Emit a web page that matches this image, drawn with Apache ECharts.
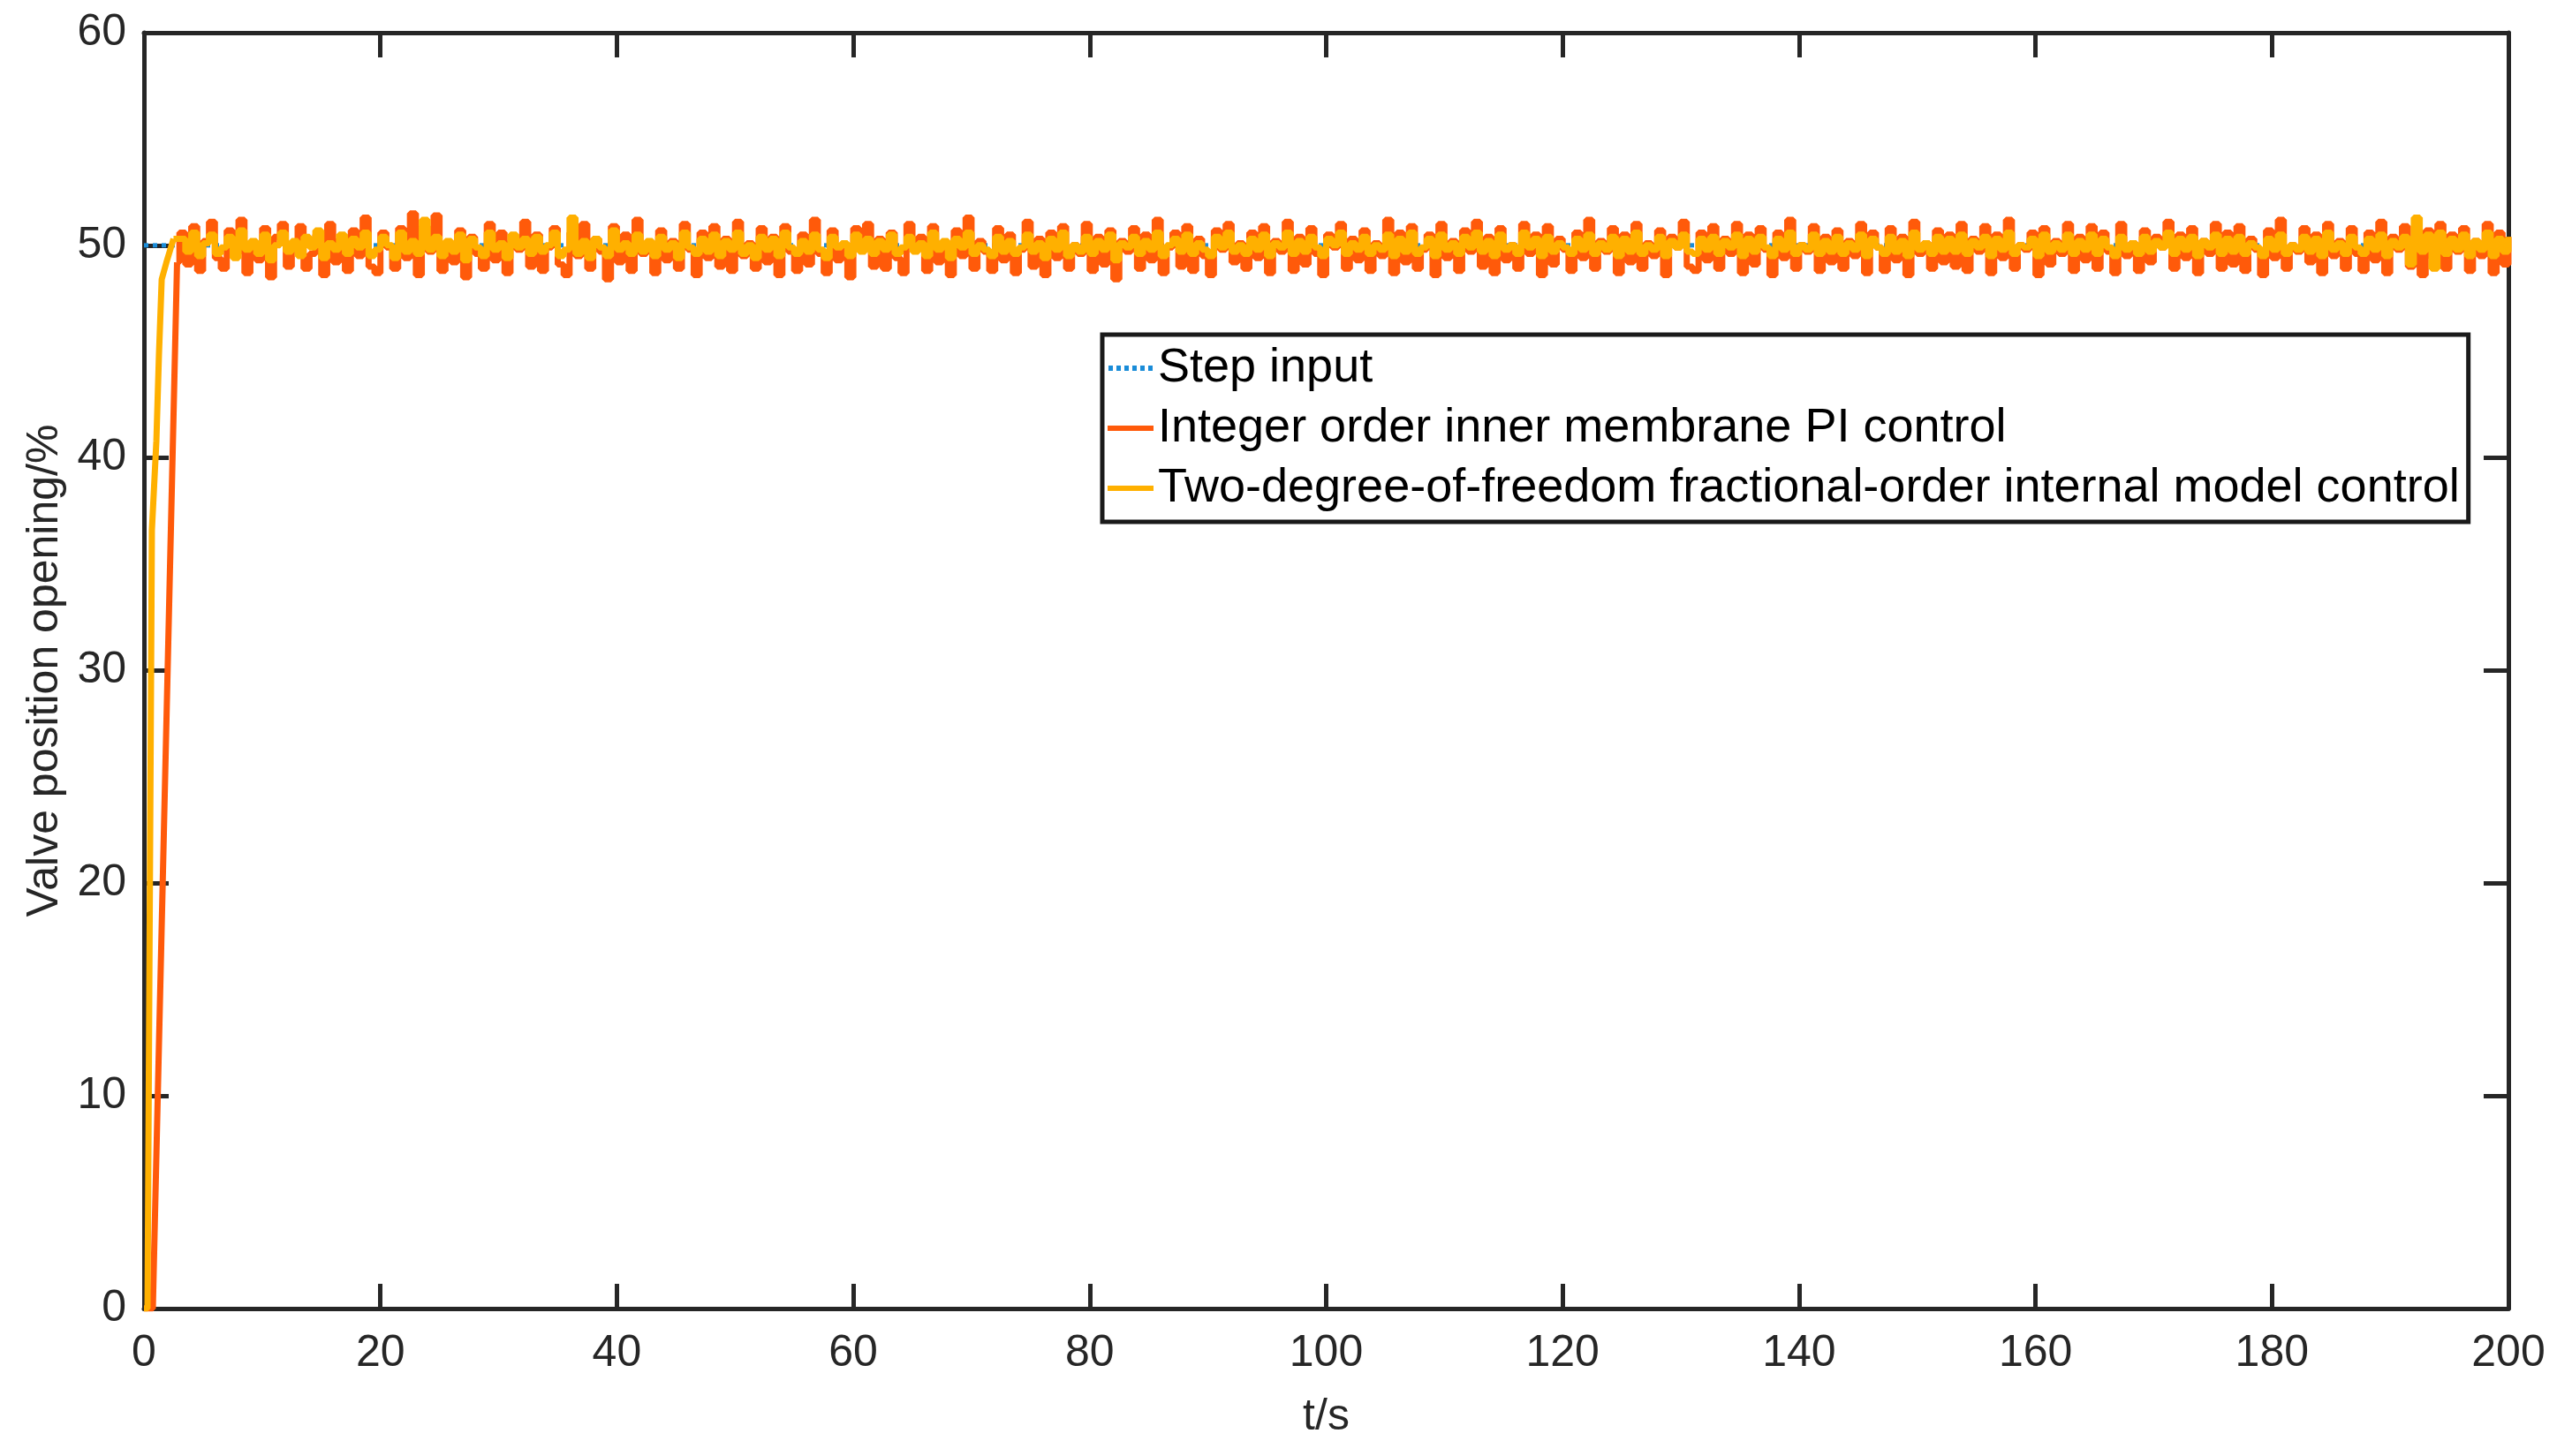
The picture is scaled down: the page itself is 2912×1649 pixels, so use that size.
<!DOCTYPE html>
<html>
<head>
<meta charset="utf-8">
<title>Valve position opening</title>
<script src="https://cdn.jsdelivr.net/npm/echarts@6/dist/echarts.min.js"></script>
<style>
  html, body { margin: 0; padding: 0; background: #fff; }
  #main { width: 2912px; height: 1649px; }
</style>
</head>
<body>
<div id="main"></div>
<script>
// series names (legend)
var seriesNames = [
  'Step input',
  'Integer order inner membrane PI control',
  'Two-degree-of-freedom fractional-order internal model control'
];

// step input (already at 50 from t = 0)
var stepT = [0, 200];
var stepV = [50, 50];

// rising part
var piRiseT = [0, 0.75, 2.8];
var piRiseV = [0, 0, 49.2];
var fomRiseT = [0, 0.3, 0.67, 1.05, 1.27, 1.5, 1.9, 2.5];
var fomRiseV = [0, 0, 36.6, 40.8, 44.9, 48.4, 49.2, 50.3];

// steady part, sampled every 0.5 s from t = 3 s
var noiseStart = 3;
var noiseStep = 0.5;

var piNoise = [
  50.6, 49.1, 50.9, 48.8, 50.2, 51.1, 49.4, 48.9, 50.7, 49.6, 51.2, 48.7, 50.1, 49.3, 50.8, 48.5, 50.4, 51.0, 49.0, 49.8,
  50.9, 48.9, 49.6, 50.5, 48.6, 51.0, 49.2, 50.3, 48.8, 50.7, 49.5, 51.3, 49.0, 48.7, 50.6, 49.9, 48.9, 50.8, 49.4, 51.5,
  48.6, 50.9, 49.7, 51.4, 48.8, 50.1, 49.2, 50.7, 48.5, 50.4, 49.6, 48.9, 51.0, 49.3, 50.6, 48.7, 50.2, 49.8, 51.1, 49.0,
  50.5, 48.8, 49.9, 50.8, 49.1, 48.6, 50.6, 49.5, 51.0, 48.9, 50.3, 49.7, 48.4, 50.9, 49.2, 50.5, 48.8, 51.2, 49.6, 50.0,
  48.7, 50.7, 49.3, 50.2, 48.9, 51.0, 49.8, 48.6, 50.6, 49.4, 50.9, 49.0, 50.3, 48.8, 51.1, 49.5, 50.1, 48.9, 50.8, 49.2,
  50.4, 48.6, 50.9, 49.7, 48.8, 50.5, 49.1, 51.2, 49.6, 48.7, 50.7, 49.3, 50.0, 48.5, 50.8, 49.8, 51.0, 49.0, 50.3, 48.9,
  50.6, 49.4, 48.7, 51.0, 49.9, 50.4, 48.8, 50.9, 49.2, 50.1, 48.6, 50.7, 49.5, 51.3, 48.9, 50.2, 49.7, 48.8, 50.8, 49.3,
  50.5, 48.7, 49.8, 51.1, 49.0, 50.3, 48.6, 50.6, 49.4, 50.9, 48.9, 50.0, 49.6, 51.0, 48.8, 50.4, 49.1, 50.7, 48.4, 50.2,
  49.7, 50.8, 48.9, 50.5, 49.3, 51.2, 48.7, 49.9, 50.6, 49.0, 50.9, 48.8, 50.3, 49.5, 48.6, 50.7, 49.8, 51.0, 49.2, 50.1,
  48.9, 50.6, 49.4, 50.9, 48.7, 50.2, 49.7, 51.1, 48.8, 50.4, 49.1, 50.8, 49.6, 48.6, 50.5, 49.9, 51.0, 48.9, 50.3, 49.3,
  50.7, 48.8, 50.1, 49.5, 51.2, 48.7, 50.6, 49.2, 50.9, 48.9, 49.8, 50.5, 48.6, 51.0, 49.4, 50.2, 48.8, 50.7, 49.7, 51.1,
  49.0, 50.4, 48.7, 50.8, 49.3, 50.0, 48.9, 51.0, 49.6, 50.5, 48.6, 50.9, 49.1, 50.3, 49.8, 48.8, 50.6, 49.4, 51.2, 48.9,
  50.2, 49.7, 50.8, 48.7, 50.5, 49.2, 51.0, 48.9, 50.1, 49.5, 50.7, 48.6, 50.4, 49.9, 51.1, 49.0, 48.8, 50.6, 49.3, 50.9,
  48.9, 50.3, 49.6, 51.0, 48.7, 50.5, 49.1, 50.8, 49.8, 48.6, 50.6, 49.4, 51.2, 48.9, 50.0, 49.7, 50.9, 48.8, 50.4, 49.2,
  50.7, 48.9, 50.2, 49.5, 51.0, 48.7, 50.6, 49.9, 48.8, 50.8, 49.3, 50.4, 48.6, 51.1, 49.6, 50.1, 48.9, 50.7, 49.2, 50.5,
  49.0, 51.0, 48.8, 50.3, 49.7, 50.9, 48.7, 50.5, 49.4, 51.2, 48.9, 50.0, 49.8, 50.6, 48.6, 50.8, 49.1, 50.2, 49.6, 51.0,
  48.8, 50.4, 49.3, 50.9, 48.9, 50.6, 49.7, 48.7, 51.0, 49.5, 50.1, 48.8, 50.7, 49.2, 50.4, 49.9, 51.1, 48.9, 50.5, 49.4,
  50.8, 48.7, 50.2, 49.6, 51.0, 48.9, 50.6, 49.1, 50.9, 48.8, 50.3, 49.8, 48.6, 50.7, 49.4, 51.2, 48.9, 50.0, 49.7, 50.8,
  49.2, 50.5, 48.7, 51.0, 49.5, 50.2, 48.9, 50.8, 49.6, 48.8, 50.6, 49.3, 51.1, 48.7, 50.4, 49.8, 50.9, 49.0, 50.3, 48.6,
  50.7, 49.4, 51.0, 48.9, 50.5, 49.7, 50.8, 48.8, 50.2, 49.5, 51.0, 48.7, 50.6, 49.1, 50.4
];

var fomNoise = [
  50.3, 49.7, 50.6, 49.5, 50.1, 50.5, 49.6, 49.9, 50.4, 49.4, 50.7, 49.8, 50.2, 49.6, 50.5, 49.3, 50.0, 50.6, 49.7, 50.2,
  49.5, 50.4, 49.9, 50.7, 49.4, 50.1, 49.8, 50.5, 49.6, 50.3, 49.9, 50.6, 49.5, 49.8, 50.4, 50.0, 49.4, 50.6, 49.7, 50.2,
  49.6, 51.2, 49.8, 50.4, 49.5, 50.2, 49.7, 50.5, 49.3, 50.3, 49.9, 49.5, 50.6, 49.8, 50.1, 49.4, 50.5, 49.9, 50.3, 49.6,
  50.4, 49.7, 50.0, 50.6, 49.5, 49.8, 51.3, 49.6, 50.2, 49.4, 50.3, 49.9, 49.5, 50.7, 49.8, 50.1, 49.6, 50.5, 49.7, 50.2,
  49.5, 50.4, 49.8, 50.1, 49.4, 50.6, 49.9, 49.6, 50.3, 49.7, 50.5, 49.5, 50.2, 49.8, 50.6, 49.6, 50.0, 49.4, 50.4, 49.8,
  50.3, 49.5, 50.6, 49.9, 49.6, 50.2, 49.7, 50.5, 49.8, 49.4, 50.4, 49.9, 50.1, 49.5, 50.5, 49.7, 50.3, 49.6, 50.2, 49.8,
  50.5, 49.6, 49.9, 50.4, 49.7, 50.1, 49.5, 50.6, 49.8, 50.2, 49.4, 50.3, 49.9, 50.6, 49.6, 50.0, 49.8, 49.5, 50.4, 49.7,
  50.2, 49.6, 49.9, 50.5, 49.7, 50.1, 49.4, 50.3, 49.8, 50.6, 49.5, 50.0, 49.7, 50.4, 49.6, 50.2, 49.8, 50.5, 49.3, 50.1,
  49.9, 50.4, 49.6, 50.2, 49.8, 50.6, 49.5, 50.0, 50.3, 49.7, 50.5, 49.6, 50.1, 49.8, 49.5, 50.4, 49.9, 50.6, 49.7, 50.0,
  49.6, 50.3, 49.8, 50.5, 49.5, 50.1, 49.9, 50.6, 49.6, 50.2, 49.7, 50.4, 49.9, 49.5, 50.3, 50.0, 50.6, 49.6, 50.1, 49.8,
  50.4, 49.6, 50.0, 49.8, 50.5, 49.5, 50.3, 49.7, 50.6, 49.6, 49.9, 50.3, 49.5, 50.5, 49.8, 50.1, 49.6, 50.4, 49.9, 50.6,
  49.7, 50.2, 49.5, 50.5, 49.8, 50.0, 49.6, 50.6, 49.9, 50.3, 49.5, 50.4, 49.7, 50.1, 49.9, 49.6, 50.3, 49.8, 50.5, 49.6,
  50.1, 49.8, 50.4, 49.5, 50.3, 49.7, 50.6, 49.6, 50.0, 49.8, 50.4, 49.5, 50.2, 49.9, 50.5, 49.7, 49.6, 50.3, 49.8, 50.4,
  49.6, 50.2, 49.9, 50.5, 49.5, 50.3, 49.7, 50.4, 49.9, 49.5, 50.3, 49.8, 50.6, 49.6, 50.0, 49.8, 50.5, 49.6, 50.2, 49.7,
  50.4, 49.6, 50.1, 49.8, 50.5, 49.5, 50.3, 49.9, 49.6, 50.4, 49.7, 50.2, 49.5, 50.6, 49.8, 50.1, 49.6, 50.4, 49.7, 50.3,
  49.7, 50.5, 49.6, 50.2, 49.9, 50.4, 49.5, 50.3, 49.8, 50.6, 49.6, 50.0, 49.9, 50.3, 49.5, 50.5, 49.7, 50.1, 49.8, 50.5,
  49.6, 50.2, 49.8, 50.5, 49.6, 50.3, 49.9, 49.5, 50.4, 49.8, 50.1, 49.6, 50.4, 49.7, 50.2, 49.9, 50.6, 49.6, 50.3, 49.8,
  50.4, 49.5, 50.2, 49.9, 50.5, 49.6, 50.3, 49.7, 50.4, 49.6, 50.1, 49.9, 49.5, 50.3, 49.8, 50.5, 49.6, 50.0, 49.8, 50.4,
  49.7, 50.3, 49.5, 50.6, 49.8, 50.1, 49.6, 50.4, 49.9, 49.6, 50.3, 49.8, 50.5, 49.5, 50.2, 49.9, 50.4, 49.1, 51.3, 49.7,
  50.5, 48.9, 50.6, 49.6, 50.3, 49.8, 50.5, 49.5, 50.2, 49.8, 50.6, 49.5, 50.3, 49.7, 50.4
];

// axis ticks
var xTicks = { min: 0, max: 200, interval: 20 };
var yTicks = { min: 0, max: 60, interval: 10 };

function pairs(ts, vs) {
  var out = [];
  for (var i = 0; i < ts.length; i++) {
    out.push([ts[i], vs[i]]);
  }
  return out;
}

// sampled part held between samples, starting from the last rise point
function noisePairs(riseT, riseV, noise) {
  var last = riseT.length - 1;
  var out = [[riseT[last], riseV[last]]];
  for (var i = 0; i < noise.length; i++) {
    out.push([noiseStart + i * noiseStep, noise[i]]);
  }
  return out;
}

var fontName = 'Liberation Sans, Arial, Helvetica, sans-serif';
var axisColor = '#262626';
var piColor = '#ff5a0a';
var fomColor = '#ffb000';
var stepColor = '#1a8cd8';

// legend swatches: solid bar and dotted bar
var solidIcon = 'path://M0,0L52,0L52,6L0,6Z';
var dottedIcon = 'path://M0,0h5v6h-5z M9,0h5v6h-5z M18,0h5v6h-5z M27,0h5v6h-5z M36,0h5v6h-5z M45,0h5v6h-5z';

var chart = echarts.init(document.getElementById('main'));

var frameLine = { show: true, onZero: false, lineStyle: { color: axisColor, width: 5 } };
var frameTick = { show: true, inside: true, length: 28, lineStyle: { color: axisColor, width: 5 } };

var option = {
  animation: false,
  backgroundColor: '#fff',
  grid: {
    left: 163,
    right: 72,
    top: 37,
    bottom: 167
  },
  legend: {
    orient: 'vertical',
    left: 1248,
    top: 379,
    padding: [10, 10, 10, 6],
    itemGap: 12,
    itemWidth: 52,
    itemHeight: 6,
    backgroundColor: '#fff',
    borderColor: '#1a1a1a',
    borderWidth: 5,
    textStyle: {
      fontFamily: fontName,
      fontSize: 54,
      lineHeight: 56,
      color: '#000'
    },
    data: [
      { name: seriesNames[0], icon: dottedIcon },
      { name: seriesNames[1], icon: solidIcon },
      { name: seriesNames[2], icon: solidIcon }
    ]
  },
  xAxis: [{
    type: 'value',
    position: 'bottom',
    min: xTicks.min,
    max: xTicks.max,
    interval: xTicks.interval,
    name: 't/s',
    nameLocation: 'middle',
    nameGap: 98,
    nameTextStyle: { fontFamily: fontName, fontSize: 50, color: axisColor },
    axisLine: frameLine,
    axisTick: frameTick,
    axisLabel: { fontFamily: fontName, fontSize: 50, color: axisColor, margin: 26 },
    splitLine: { show: false }
  }, {
    type: 'value',
    position: 'top',
    min: xTicks.min,
    max: xTicks.max,
    interval: xTicks.interval,
    axisLine: frameLine,
    axisTick: frameTick,
    axisLabel: { show: false },
    splitLine: { show: false }
  }],
  yAxis: [{
    type: 'value',
    position: 'left',
    min: yTicks.min,
    max: yTicks.max,
    interval: yTicks.interval,
    name: 'Valve position opening/%',
    nameLocation: 'middle',
    nameGap: 86,
    nameTextStyle: { fontFamily: fontName, fontSize: 50, color: axisColor },
    axisLine: frameLine,
    axisTick: frameTick,
    axisLabel: { fontFamily: fontName, fontSize: 50, color: axisColor, margin: 20 },
    splitLine: { show: false }
  }, {
    type: 'value',
    position: 'right',
    min: yTicks.min,
    max: yTicks.max,
    interval: yTicks.interval,
    axisLine: frameLine,
    axisTick: frameTick,
    axisLabel: { show: false },
    splitLine: { show: false }
  }],
  series: [{
    name: seriesNames[0],
    type: 'line',
    symbol: 'none',
    z: 2,
    lineStyle: { color: stepColor, width: 5, type: [5, 5] },
    itemStyle: { color: stepColor },
    data: pairs(stepT, stepV)
  }, {
    // PI: rise
    name: seriesNames[1],
    type: 'line',
    symbol: 'none',
    z: 3,
    lineStyle: { color: piColor, width: 7 },
    itemStyle: { color: piColor },
    data: pairs(piRiseT, piRiseV)
  }, {
    // PI: steady part
    name: seriesNames[1],
    type: 'line',
    symbol: 'none',
    step: 'end',
    z: 3,
    lineStyle: { color: piColor, width: 7 },
    itemStyle: { color: piColor },
    data: noisePairs(piRiseT, piRiseV, piNoise)
  }, {
    // 2-DOF FO-IMC: rise
    name: seriesNames[2],
    type: 'line',
    symbol: 'none',
    z: 4,
    lineStyle: { color: fomColor, width: 7 },
    itemStyle: { color: fomColor },
    data: pairs(fomRiseT, fomRiseV)
  }, {
    // 2-DOF FO-IMC: steady part
    name: seriesNames[2],
    type: 'line',
    symbol: 'none',
    step: 'end',
    z: 4,
    lineStyle: { color: fomColor, width: 7 },
    itemStyle: { color: fomColor },
    data: noisePairs(fomRiseT, fomRiseV, fomNoise)
  }]
};

chart.setOption(option);
</script>
</body>
</html>
